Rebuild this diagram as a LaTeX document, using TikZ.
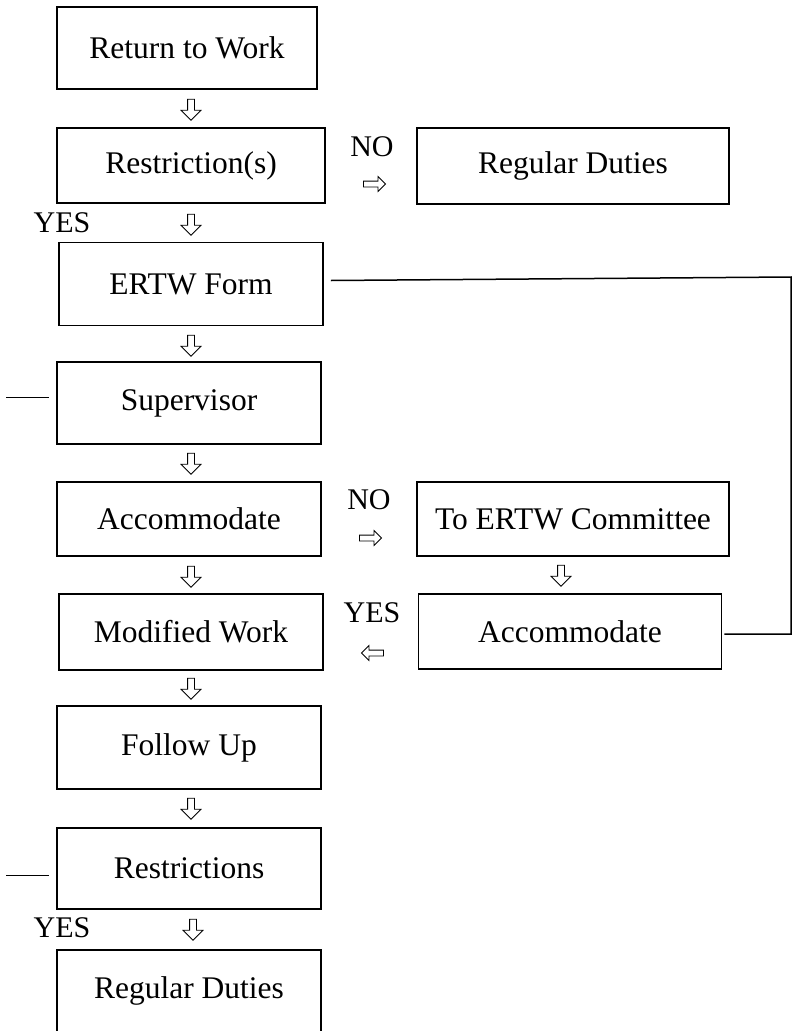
\documentclass[tikz,border=0pt]{standalone}
\usepackage{fontspec}
\setmainfont{Liberation Serif}
\usetikzlibrary{shapes.arrows}

\begin{document}
\begin{tikzpicture}[x=1pt,y=-1pt,
  box/.style={shape=rectangle,draw=black,line width=1.6pt,minimum width=264pt,minimum height=82pt,inner sep=0pt,font=\fontsize{31.5}{35}\selectfont},
  lab/.style={inner sep=0pt,font=\fontsize{30}{34}\selectfont},
  darrow/.style={single arrow,draw=black,line width=0.8pt,inner sep=3pt,single arrow head extend=6.5pt,minimum height=21pt,rotate=-90},
  harrow/.style={single arrow,draw=black,line width=0.8pt,inner sep=2.5pt,single arrow head extend=4.5pt,minimum height=22pt}]
\useasboundingbox (0,0) rectangle (792,1031);
\node[box,minimum width=260pt] (1) at (187,48) {Return to Work};
\node[box,minimum width=268pt,minimum height=75pt] (2) at (191,165.5) {Restriction(s)};
\node[box,minimum width=312pt,minimum height=76pt] (3) at (573,166) {Regular Duties};
\node[box,minimum height=83pt] (4) at (191,284) {ERTW Form};
\node[box] (5) at (189,403) {Supervisor};
\node[box,minimum height=74pt] (6) at (189,519) {Accommodate};
\node[box,minimum width=312pt,minimum height=74pt] (7) at (573,519) {To ERTW Committee};
\node[box,minimum height=76pt] (8) at (191,632) {Modified Work};
\node[box,minimum width=303pt,minimum height=75pt] (9) at (570,631.5) {Accommodate};
\node[box,minimum height=83pt] (10) at (189,747.5) {Follow Up};
\node[box,minimum height=81pt] (11) at (189,868.5) {Restrictions};
\node[box] (12) at (189,991) {Regular Duties};
% hollow arrows
\node[darrow] (a1) at (191,108) {};
\node[darrow] (a2) at (191,223) {};
\node[darrow] (a3) at (191,344) {};
\node[darrow] (a4) at (191,462) {};
\node[darrow] (a5) at (191,575) {};
\node[darrow] (a6) at (561,574) {};
\node[darrow] (a7) at (191,687) {};
\node[darrow] (a8) at (191,807) {};
\node[darrow] (a9) at (193,928) {};
\node[harrow] (r1) at (373,184) {};
\node[harrow] (r2) at (369,538) {};
\node[harrow,rotate=180] (l1) at (374,653) {};
% labels
\node[lab] (no1) at (372,147) {NO};
\node[lab] (no2) at (369,500) {NO};
\node[lab] (yes1) at (62,223) {YES};
\node[lab] (yes2) at (372,613) {YES};
\node[lab] (yes3) at (62,928) {YES};
% lines
\coordinate (rt) at (791,277);
\coordinate (rb) at (791,634);
\coordinate (s1) at (6,397);
\coordinate (s2) at (6,875);
\draw[line width=1.5pt] ([xshift=7pt,yshift=3.5pt]4.east) -- (rt) -- (rb) -- ([xshift=2pt,yshift=-2.5pt]9.east);
\draw[line width=0.8pt] (s1) -- ([xshift=-7pt,yshift=6pt]5.west);
\draw[line width=0.8pt] (s2) -- ([xshift=-7pt,yshift=-6.5pt]11.west);
\end{tikzpicture}
\end{document}
